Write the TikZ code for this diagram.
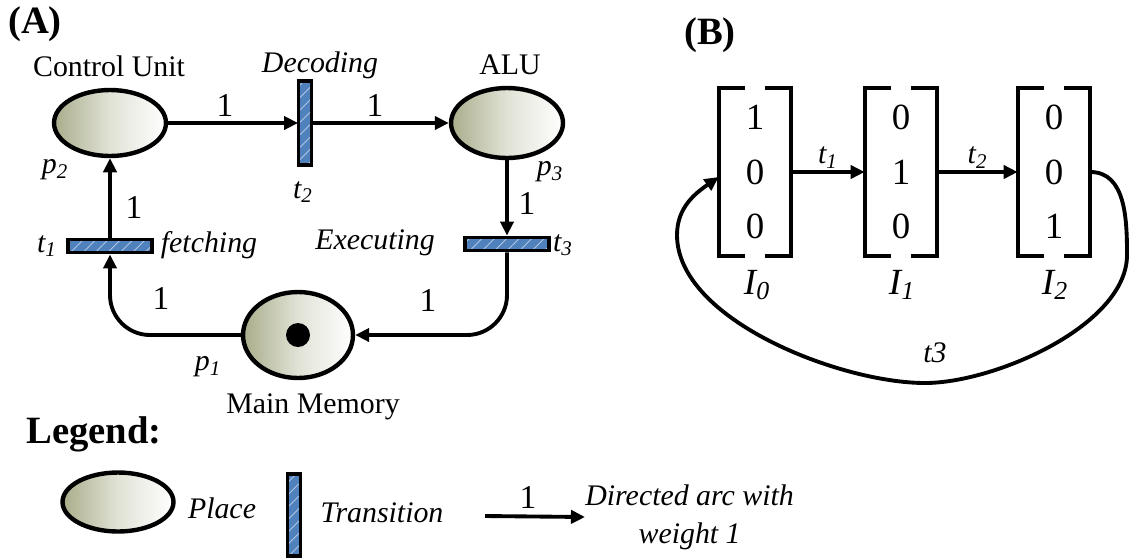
\documentclass[tikz,border=0pt]{standalone}
\usepackage{fontspec}
\setmainfont{Liberation Serif}
\usetikzlibrary{arrows.meta,positioning,calc,shapes.geometric,patterns.meta}
\definecolor{plolive}{HTML}{A9AD8A}
\definecolor{trblue}{HTML}{4F81BD}
\newcommand{\sublab}[2]{#1\textsubscript{#2}}

\begin{document}
\begin{tikzpicture}[
    x=0.02cm,y=0.02cm,
    plc/.style  = {ellipse, draw=black, line width=2.5pt, left color=plolive,
                   right color=white, middle color=plolive!35!white,
                   inner sep=0pt, minimum width=2.24cm, minimum height=1.32cm},
    trn/.style  = {rectangle, draw=black, line width=2.2pt, inner sep=0pt,
                   preaction={fill=trblue},
                   pattern={Lines[angle=45,distance=5pt,line width=0.5pt]},
                   pattern color=white!55!trblue},
    trv/.style  = {trn, minimum width=0.26cm, minimum height=1.68cm},
    trh/.style  = {trn, minimum width=1.68cm, minimum height=0.26cm},
    tok/.style  = {circle, fill=black, inner sep=0pt, minimum size=0.48cm},
    arw/.style  = {-{Triangle[length=8pt,width=7.5pt]}, line width=2.2pt},
    lbl/.style  = {font=\fontsize{17}{20}\selectfont, inner sep=1pt},
    lbi/.style  = {font=\fontsize{17}{20}\selectfont\itshape, inner sep=1pt},
    wt/.style   = {font=\fontsize{19}{22}\selectfont, inner sep=1pt},
    hdr/.style  = {font=\fontsize{22}{26}\selectfont\bfseries, inner sep=1pt},
    vec/.style  = {rectangle, minimum width=1.44cm, minimum height=3.36cm,
                   inner sep=0pt, align=center, font=\fontsize{21}{31}\selectfont},
    brk/.style  = {line width=2.2pt},
    ilb/.style  = {font=\fontsize{21}{24}\selectfont\itshape, inner sep=1pt},
  ]

  \useasboundingbox (0,0) rectangle (1131,-559);

  % (A) the net
  \node[hdr] (labA) at (35,-24)  {(A)};

  \node[plc] (p2) at (110,-123) {};
  \node[plc, minimum height=1.40cm] (p3) at (507,-123) {};
  \node[plc, minimum width=2.20cm, minimum height=1.72cm] (p1) at (298,-335) {};
  \node[tok] (tok) at (p1) {};

  \node[trv] (t2) at (305,-123) {};
  \node[trh] (t1) at (110,-246) {};
  \node[trh] (t3) at (507,-244) {};

  \node[lbl] (cu)  at (109,-66)  {Control Unit};
  \node[lbi] (dec) at (320,-65)  {Decoding};
  \node[lbl] (alu) at (510,-65)  {ALU};
  \node[lbi] (p2l) at (55,-170)  {\sublab{p}{2}};
  \node[lbi] (t2l) at (303,-192) {\sublab{t}{2}};
  \node[lbi] (p3l) at (550,-172) {\sublab{p}{3}};
  \node[lbi] (t3l) at (563,-245) {\sublab{t}{3}};
  \node[lbi] (exe) at (375,-243) {Executing};
  \node[lbi] (t1l) at (47,-246)  {\sublab{t}{1}};
  \node[lbi] (fet) at (209,-245) {fetching};
  \node[lbi] (p1l) at (208,-367) {\sublab{p}{1}};
  \node[lbl] (mm)  at (313,-407) {Main Memory};

  \draw[arw] (t1) -- (p2);
  \draw[arw] (p2) -- (t2);
  \draw[arw] (t2) -- (p3);
  \draw[arw] (p3) -- (t3);
  \draw[arw, rounded corners=0.8cm] (t3.south) |- (p1.east);
  \draw[arw, rounded corners=0.8cm] (p1.west) -| (t1.south);

  \node[wt] (w1) at (225,-105) {1};
  \node[wt] (w2) at (375,-105) {1};
  \node[wt] (w3) at (134,-207) {1};
  \node[wt] (w4) at (527,-203) {1};
  \node[wt] (w5) at (161,-298) {1};
  \node[wt] (w6) at (428,-300) {1};

  % legend
  \node[hdr] (leg) at (94,-434) {Legend:};
  \node[plc, minimum width=2.22cm, minimum height=1.18cm] (lplc) at (118,-502) {};
  \node[lbi] (lplt) at (222,-508) {Place};
  \node[trv, minimum height=1.64cm] (ltrn) at (294,-515) {};
  \node[lbi] (ltrt) at (382,-513) {Transition};
  \coordinate (larc) at (485,-516);
  \node[lbi, anchor=west, align=center, inner sep=0pt,
        font=\fontsize{17}{21.5}\selectfont\itshape] (ldesc) at (585,-517)
       {Directed arc with\\weight 1};
  \draw[arw] (larc) -- (ldesc.west);
  \node[wt] (lw) at (528,-497) {1};

  % (B) the markings
  \node[hdr] (labB) at (710,-35) {(B)};

  \node[vec] (I0) at (755,-172)  {1\\0\\0};
  \node[vec] (I1) at (901,-172)  {0\\1\\0};
  \node[vec] (I2) at (1054,-172) {0\\0\\1};
  \foreach \v in {I0,I1,I2}{
    \draw[brk] (\v.north west) ++(26,0) -| (\v.south west) -- ++(26,0);
    \draw[brk] (\v.north east) ++(-26,0) -| (\v.south east) -- ++(-26,0);
  }
  \node[ilb] (I0l) at (757,-285)  {\sublab{I}{0}};
  \node[ilb] (I1l) at (902,-285)  {\sublab{I}{1}};
  \node[ilb] (I2l) at (1055,-285) {\sublab{I}{2}};

  \draw[arw] (I0) -- node[lbi, above] {\sublab{t}{1}} (I1);
  \draw[arw] (I1) -- node[lbi, above] {\sublab{t}{2}} (I2);

  \coordinate (lpR) at (1127,-255);
  \coordinate (lpB) at (925,-383);
  \coordinate (lpL) at (677,-235);
  \draw[arw] (I2.east) to[out=0,in=90] (lpR)
       to[out=-90,in=0,looseness=0.75] (lpB)
       to[out=180,in=-90,looseness=0.75] (lpL)
       to[out=90,in=215] ([yshift=-0.1cm]I0.west);
  \node[lbi] (t3b) at (935,-353) {t3};

\end{tikzpicture}
\end{document}
